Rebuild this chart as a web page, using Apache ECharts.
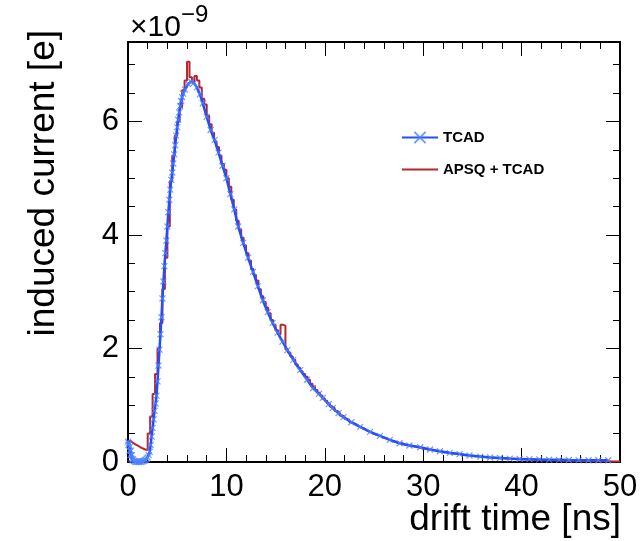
<!DOCTYPE html>
<html lang="en">
<head>
  <meta charset="UTF-8">
  <title>induced current</title>
</head>
<body style="margin:0">
  <div id="chart" style="width: 642px;height: 541px;"></div>
</body>
<script src="https://cdn.jsdelivr.net/npm/echarts@6/dist/echarts.min.js"></script>
<script>
  // TCAD simulation: time [ns] and induced current [1e-9 e]
  var tcadT = [0, 0.05, 0.1, 0.15, 0.2, 0.25, 0.3, 0.35, 0.4, 0.45, 0.5,
    0.6, 0.7, 0.8, 0.9, 1.0, 1.1, 1.2, 1.3, 1.4, 1.5, 1.6, 1.7, 1.8, 1.9,
    2.0, 2.1, 2.2, 2.3, 2.4, 2.5, 2.6, 2.7, 2.8, 2.9, 3.0, 3.1, 3.2, 3.3, 3.4, 3.5, 3.6, 3.7, 3.8, 3.9,
    4.0, 4.1, 4.2, 4.3, 4.4, 4.5, 4.6, 4.7, 4.8, 4.9, 5.0, 5.1, 5.2, 5.3, 5.4, 5.5, 5.6,
    5.8, 6.1, 6.4, 6.7, 7.0, 7.3, 7.6, 8.0, 8.4, 8.8, 9.2, 9.6, 10.0, 10.4, 10.8, 11.2, 11.7,
    12.2, 12.7, 13.2, 13.7, 14.2, 14.7, 15.2, 15.7, 16.2, 16.8, 17.5, 18.2, 18.8, 19.4, 19.8,
    20.4, 20.8, 21.4, 21.9, 22.7, 23.6, 24.6, 25.6, 26.6, 27.6, 28.6, 29.7, 30.7, 31.7, 32.7,
    33.7, 34.7, 35.8, 36.8, 37.8, 38.8, 39.8, 40.8, 41.8, 42.8, 43.8, 44.8, 45.8, 46.8, 47.8, 48.8];
  var tcadI = [0.36, 0.3, 0.33, 0.2, 0.27, 0.12, 0.2, 0.06, 0.12, 0.03, 0.05,
    0.02, 0.01, 0.0, 0.01, 0.0, 0.0, 0.01, 0.0, 0.01, 0.01, 0.02, 0.03, 0.04, 0.06,
    0.08, 0.12, 0.18, 0.3, 0.45, 0.6, 0.75, 0.9, 1.03, 1.17, 1.42, 1.7, 1.98, 2.25, 2.55, 2.88, 3.18, 3.45, 3.68, 3.9,
    4.15, 4.4, 4.62, 4.8, 4.97, 5.1, 5.26, 5.42, 5.58, 5.75, 5.9, 6.03, 6.16, 6.27, 6.36, 6.43, 6.49,
    6.56, 6.66, 6.7, 6.68, 6.6, 6.48, 6.32, 6.08, 5.85, 5.67, 5.45, 5.22, 5.0, 4.72, 4.45, 4.15, 3.86,
    3.6, 3.35, 3.1, 2.85, 2.64, 2.45, 2.28, 2.12, 1.97, 1.8, 1.62, 1.45, 1.3, 1.2, 1.13,
    1.02, 0.95, 0.86, 0.79, 0.7, 0.62, 0.53, 0.46, 0.39, 0.33, 0.29, 0.26, 0.22, 0.19, 0.16,
    0.14, 0.115, 0.095, 0.08, 0.07, 0.06, 0.055, 0.05, 0.045, 0.04, 0.038, 0.035, 0.033, 0.03, 0.03, 0.03];

  // APSQ + TCAD histogram, 0.25 ns bins from 0 to 50 ns
  var binWidth = 0.25;
  var apsqI = [
    0.37, 0.34, 0.31, 0.29, 0.26, 0.24, 0.22, 0.21,
    0.5, 0.8, 1.2, 1.55, 2.0, 2.45, 3.05, 3.6,
    4.15, 4.95, 5.4, 5.75, 6.0, 6.25, 6.55, 6.72,
    7.05, 6.78, 6.7, 6.8, 6.72, 6.6, 6.4, 6.3,
    6.1, 5.95, 5.8, 5.65, 5.55, 5.4, 5.25, 5.15,
    5.0, 4.85, 4.62, 4.45, 4.25, 4.1, 3.95, 3.82,
    3.68, 3.55, 3.4, 3.3, 3.2, 3.05, 2.92, 2.82,
    2.72, 2.62, 2.5, 2.42, 2.32, 2.25, 2.42, 2.4,
    1.98, 1.93, 1.86, 1.8, 1.72, 1.66, 1.6, 1.55,
    1.5, 1.45, 1.38, 1.33, 1.27, 1.22, 1.17, 1.12,
    1.08, 1.03, 0.98, 0.95, 0.9, 0.87, 0.82, 0.8,
    0.76, 0.74, 0.7, 0.68, 0.66, 0.63, 0.6, 0.59,
    0.56, 0.54, 0.52, 0.5, 0.48, 0.47, 0.45, 0.43,
    0.42, 0.4, 0.38, 0.37, 0.35, 0.34, 0.33, 0.32,
    0.3, 0.3, 0.29, 0.28, 0.27, 0.26, 0.25, 0.24,
    0.23, 0.22, 0.22, 0.21, 0.2, 0.19, 0.19, 0.18,
    0.17, 0.17, 0.16, 0.15, 0.15, 0.14, 0.14, 0.13,
    0.12, 0.12, 0.11, 0.11, 0.1, 0.1, 0.095, 0.09,
    0.09, 0.085, 0.08, 0.08, 0.075, 0.07, 0.07, 0.065,
    0.065, 0.06, 0.06, 0.055, 0.055, 0.05, 0.05, 0.05,
    0.045, 0.045, 0.04, 0.04, 0.04, 0.035, 0.035, 0.035,
    0.03, 0.03, 0.03, 0.03, 0.028, 0.027, 0.026, 0.025,
    0.024, 0.023, 0.022, 0.022, 0.021, 0.02, 0.02, 0.019,
    0.018, 0.018, 0.017, 0.016, 0.016, 0.015, 0.015, 0.014,
    0.013, 0.013, 0.012, 0.012, 0.011, 0.011, 0.01, 0.01];

  var xTicks = [0, 10, 20, 30, 40, 50];
  var yTicks = [0, 2, 4, 6];

  var font = 'Liberation Sans, Arial, Helvetica, sans-serif';

  var tcadData = tcadT.map(function (t, i) { return [t, tcadI[i]]; });
  var apsqData = apsqI.map(function (v, i) { return [i * binWidth, v]; });
  apsqData.push([apsqI.length * binWidth, apsqI[apsqI.length - 1]]);

  var myChart = echarts.init(document.getElementById('chart'));

  var tickStyle = { color: '#000', width: 1 };
  function yAx(pos, interval, len, labels) {
    return {
      type: 'value', position: pos, min: 0, max: 7.4, interval: interval,
      axisLine: { show: true, lineStyle: { color: '#000', width: 2 } },
      axisTick: { show: true, inside: true, length: len, lineStyle: tickStyle },
      axisLabel: {
        show: labels, showMaxLabel: false, margin: 9,
        color: '#000', fontSize: 31, fontFamily: font,
        formatter: function (v) { return yTicks.indexOf(v) >= 0 ? String(v) : ''; }
      },
      splitLine: { show: false }
    };
  }
  function xAx(pos, labels) {
    return {
      type: 'value', position: pos, min: xTicks[0], max: xTicks[xTicks.length - 1], interval: 10,
      axisLine: { show: true, onZero: false, lineStyle: { color: '#000', width: 2 } },
      axisTick: { show: true, inside: true, length: 14, lineStyle: tickStyle },
      minorTick: { show: true, splitNumber: 5, length: 7, lineStyle: tickStyle },
      axisLabel: { show: labels, margin: 10, color: '#000', fontSize: 31, fontFamily: font },
      splitLine: { show: false }
    };
  }

  myChart.setOption({
    animation: false,
    backgroundColor: '#fff',
    title: {
      left: 125, top: -2,
      text: '{a|×10}{b|−9}',
      textStyle: {
        fontWeight: 'normal',
        rich: {
          a: { fontSize: 30, fontFamily: font, fontWeight: 'normal', color: '#000', verticalAlign: 'bottom' },
          b: { fontSize: 24, fontFamily: font, fontWeight: 'normal', color: '#000', verticalAlign: 'top', padding: [0, 0, 16, 0] }
        }
      }
    },
    legend: {
      orient: 'vertical', left: 396, top: 125,
      itemWidth: 36, itemHeight: 14, itemGap: 17,
      data: [
        { name: 'TCAD' },
        { name: 'APSQ + TCAD', itemStyle: { opacity: 0 } }
      ],
      textStyle: { fontSize: 15, fontWeight: 'bold', fontFamily: font, color: '#000' }
    },
    grid: { left: 128, right: 22, top: 42, bottom: 79 },
    xAxis: [xAx('bottom', true), xAx('top', false)],
    yAxis: [
      yAx('left', 2, 14, true),
      yAx('left', 0.5, 7, false),
      yAx('right', 2, 14, false),
      yAx('right', 0.5, 7, false)
    ],
    graphic: [
      {
        type: 'text', x: 44, y: 30, rotation: Math.PI / 2,
        style: {
          text: 'induced current [e]', fontSize: 37, fontFamily: font, fill: '#000',
          align: 'right', verticalAlign: 'middle'
        }
      },
      {
        type: 'text', x: 621, y: 520,
        style: {
          text: 'drift time [ns]', fontSize: 37, fontFamily: font, fill: '#000',
          align: 'right', verticalAlign: 'middle'
        }
      }
    ],
    series: [
      {
        name: 'APSQ + TCAD', type: 'line', step: 'end',
        data: apsqData, showSymbol: false, symbol: 'none',
        lineStyle: { color: '#b8262a', width: 2 },
        itemStyle: { color: '#b8262a' },
        z: 2
      },
      {
        name: 'TCAD', type: 'line',
        data: tcadData,
        symbol: 'path://M0,0L10,10M10,0L0,10', symbolSize: 6, showAllSymbol: true,
        lineStyle: { color: '#1f4fff', width: 2.5 },
        itemStyle: { color: 'rgba(80,130,255,0.8)', borderColor: 'rgba(80,130,255,0.8)', borderWidth: 1.2 },
        z: 3
      }
    ]
  });
</script>
</html>
